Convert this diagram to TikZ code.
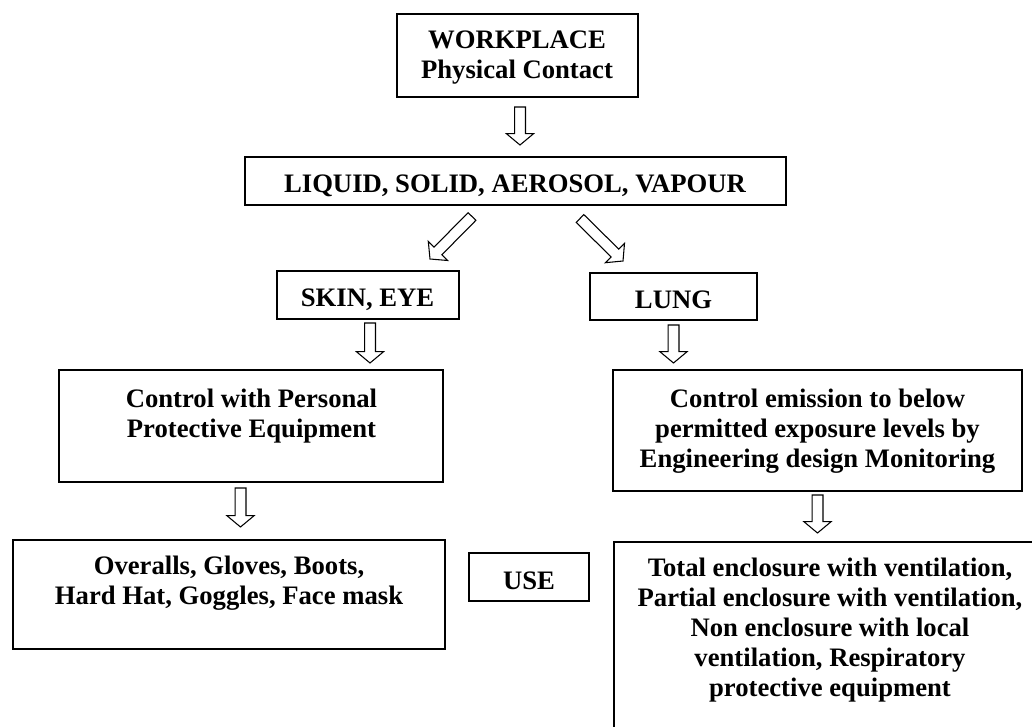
\documentclass[tikz,border=0pt]{standalone}
\usepackage{fontspec}
\setmainfont{Liberation Serif}
\usetikzlibrary{calc}

\def\shaftw{4.1pt}
\def\headw{10.2pt}
\def\headl{8.5pt}
% hollow block arrow from #1 to #2
\newcommand{\hollowarrow}[2]{%
  \draw[hollow] ($(#1)!\shaftw!90:(#2)$)
    -- ($ ($(#2)!\headl!(#1)$)!\shaftw!90:(#2) $)
    -- ($ ($(#2)!\headl!(#1)$)!\headw!90:(#2) $)
    -- (#2)
    -- ($ ($(#2)!\headl!(#1)$)!\headw!-90:(#2) $)
    -- ($ ($(#2)!\headl!(#1)$)!\shaftw!-90:(#2) $)
    -- ($(#1)!\shaftw!-90:(#2)$) -- cycle;}

\tikzset{
  box/.style={draw, line width=1.1pt, rectangle, inner sep=0pt},
  size/.style 2 args={minimum width=#1*0.75pt, minimum height=#2*0.75pt},
  txt/.style={align=center, inner sep=0pt, font=\bfseries\fontsize{20}{22.5}\selectfont},
  hollow/.style={draw, line width=0.8pt, line join=miter, fill=white},
}

\begin{document}
\begin{tikzpicture}[x=0.75pt,y=0.75pt,yscale=-1,xscale=1]
\path[use as bounding box, clip] (0,0) rectangle (1032,727);

\node[box, size={241}{83}]  (work) at (517.5,55.5) {};
\node[box, size={541}{48}]  (liq)  at (515.5,181) {};
\node[box, size={182}{48}]  (skin) at (368,295) {};
\node[box, size={167}{47}]  (lung) at (673.5,296.5) {};
\node[box, size={384}{112}] (ppe)  at (251,426) {};
\node[box, size={409}{121}] (emis) at (817.5,430.5) {};
\node[box, size={432}{109}] (wear) at (229,594.5) {};
\node[box, size={120}{48}]  (use)  at (529,577) {};
\node[box, size={426}{203}] (encl) at (827,643.5) {};

\node[txt] (worktxt) at (517,58) {WORKPLACE\\Physical Contact};
\node[txt] (liqtxt) at (515,185.5) {LIQUID, SOLID, AEROSOL, VAPOUR};
\node[txt] (skintxt) at (367.5,300) {SKIN, EYE};
\node[txt] (lungtxt) at (673.5,300) {LUNG};
\node[txt] (ppetxt) at (251.5,416.5) {Control with Personal\\Protective Equipment};
\node[txt] (emistxt) at (817.5,431) {Control emission to below\\permitted exposure levels by\\Engineering design Monitoring};
\node[txt] (weartxt) at (229,583) {Overalls, Gloves, Boots,\\Hard Hat, Goggles, Face mask};
\node[txt] (usetxt) at (529,580.5) {USE};
\node[txt] (encltxt) at (830,630) {Total enclosure with ventilation,\\Partial enclosure with ventilation,\\Non enclosure with local\\ventilation, Respiratory\\protective equipment};

\coordinate (w1) at (520,107);   \coordinate (w2) at (520,145);
\coordinate (l1) at (472,216.5); \coordinate (l2) at (430,259);
\coordinate (r1) at (580,218.5); \coordinate (r2) at (623,261);
\coordinate (s1) at (370,323);   \coordinate (s2) at (370,363);
\coordinate (g1) at (673.5,325); \coordinate (g2) at (673.5,363);
\coordinate (p1) at (240.5,488); \coordinate (p2) at (240.5,527);
\coordinate (e1) at (817.5,495); \coordinate (e2) at (817.5,533);

\hollowarrow{w1}{w2}
\hollowarrow{l1}{l2}
\hollowarrow{r1}{r2}
\hollowarrow{s1}{s2}
\hollowarrow{g1}{g2}
\hollowarrow{p1}{p2}
\hollowarrow{e1}{e2}

\end{tikzpicture}
\end{document}
